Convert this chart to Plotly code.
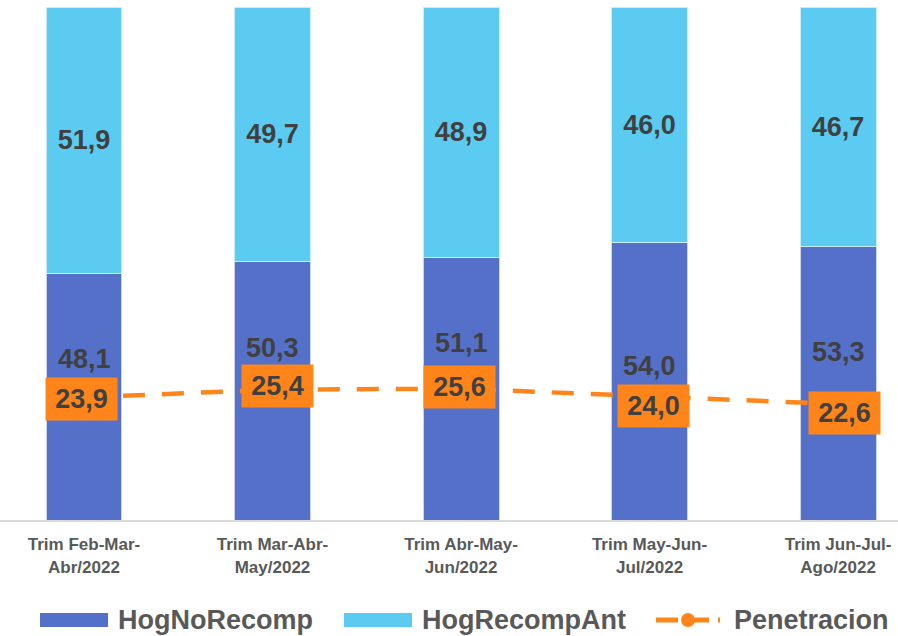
import plotly.graph_objects as go

categories = [
    "Trim Feb-Mar-<br>Abr/2022",
    "Trim Mar-Abr-<br>May/2022",
    "Trim Abr-May-<br>Jun/2022",
    "Trim May-Jun-<br>Jul/2022",
    "Trim Jun-Jul-<br>Ago/2022",
]
hog_no_recomp = [48.1, 50.3, 51.1, 54.0, 53.3]
hog_recomp_ant = [51.9, 49.7, 48.9, 46.0, 46.7]
penetracion = [23.9, 25.4, 25.6, 24.0, 22.6]

BLUE = "#5470C9"
CYAN = "#5BCBF2"
ORANGE = "#FF851B"
LABEL = "#404040"
GREY = "#595959"
FONT = "Liberation Sans, Arial, sans-serif"


def fmt(v):
    return f"{v:.1f}".replace(".", ",")


fig = go.Figure()

fig.add_trace(go.Bar(
    name="HogNoRecomp", x=categories, y=hog_no_recomp,
    marker=dict(color=BLUE, line=dict(color="#C9D3F0", width=1)),
    width=0.403,
))
fig.add_trace(go.Bar(
    name="HogRecompAnt", x=categories, y=hog_recomp_ant,
    marker=dict(color=CYAN, line=dict(color="#C9EEFB", width=1)),
    width=0.403,
    text=[fmt(v) for v in hog_recomp_ant],
    textposition="inside", insidetextanchor="middle",
    textfont=dict(family=FONT, size=27, color=LABEL, weight="bold"),
    constraintext="none",
))
fig.add_trace(go.Scatter(
    name="Penetracion", x=categories, y=penetracion, mode="lines",
    line=dict(color=ORANGE, width=4.5, dash="22px,17px"),
))

# labels of the lower segments were nudged by hand in the original
low_shift = [38, 42, 46, 31, 52]
for c, v, p, s in zip(categories, hog_no_recomp, penetracion, low_shift):
    fig.add_annotation(x=c, y=p, text=fmt(v), showarrow=False, yshift=s,
                       font=dict(family=FONT, size=27, color=LABEL, weight="bold"))

pen_xshift = [-3, 5, -2, 4, 6]
pen_yshift = [-2, 4, 2, -9, -9]
for c, p, dx, dy in zip(categories, penetracion, pen_xshift, pen_yshift):
    fig.add_annotation(x=c, y=p, text=fmt(p), showarrow=False,
                       xshift=dx, yshift=dy, bgcolor=ORANGE,
                       width=65, height=36, borderpad=3,
                       font=dict(family=FONT, size=27, color=LABEL, weight="bold"))

# hand-drawn legend (wide swatches as in the original)
def py(px):
    return (520 - px) / 513


fig.add_shape(type="rect", xref="paper", yref="paper",
              x0=40 / 898, x1=108 / 898, y0=py(627), y1=py(613),
              fillcolor=BLUE, line_width=0)
fig.add_shape(type="rect", xref="paper", yref="paper",
              x0=344 / 898, x1=412 / 898, y0=py(627), y1=py(613),
              fillcolor=CYAN, line_width=0)
fig.add_shape(type="line", xref="paper", yref="paper",
              x0=656 / 898, x1=720 / 898, y0=py(620), y1=py(620),
              line=dict(color=ORANGE, width=5, dash="22px,9px"))
fig.add_shape(type="circle", xref="paper", yref="paper",
              x0=681 / 898, x1=695 / 898, y0=py(627), y1=py(613),
              fillcolor=ORANGE, line_width=0)
for x0, t in [(116, "HogNoRecomp"), (420, "HogRecompAnt"), (732, "Penetracion")]:
    fig.add_annotation(xref="paper", yref="paper", x=x0 / 898, y=py(620),
                       xanchor="left", yanchor="middle", text=t, showarrow=False,
                       font=dict(family=FONT, size=27, color=GREY, weight="bold"))

fig.update_layout(
    barmode="stack",
    width=898, height=636,
    margin=dict(l=0, r=0, t=7, b=116),
    paper_bgcolor="white", plot_bgcolor="white",
    showlegend=False,
    xaxis=dict(
        range=[-0.4456, 4.318], showline=True, linecolor="#D9D9D9", linewidth=2,
        showgrid=False, ticks="", zeroline=False, ticklabelstandoff=8,
        tickfont=dict(family=FONT, size=17, color=GREY, weight="bold"),
    ),
    yaxis=dict(range=[0, 100], visible=False, showgrid=False),
)

fig.write_html("out.html", config={"displayModeBar": False},
               post_script="document.body.style.margin='0';")
